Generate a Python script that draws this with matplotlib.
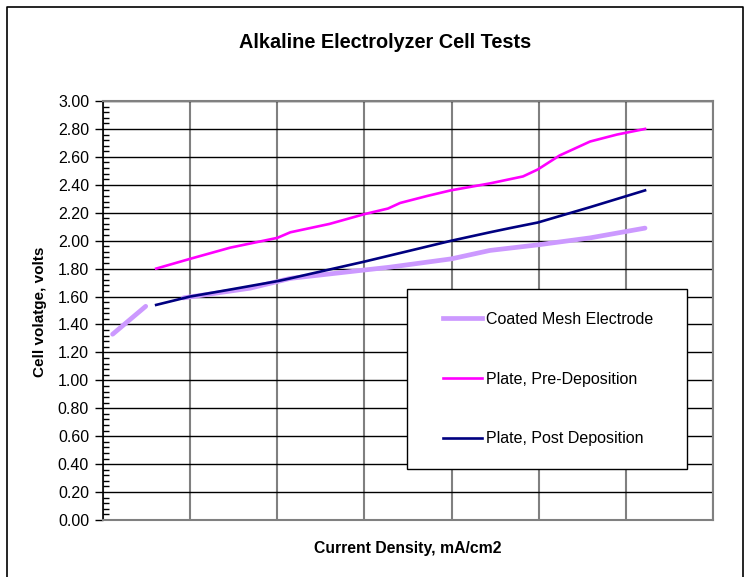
import numpy as np
import matplotlib
matplotlib.use("Agg")
import matplotlib.pyplot as plt
from matplotlib.ticker import MultipleLocator, NullFormatter
from matplotlib.lines import Line2D
from matplotlib.patches import Rectangle

plt.rcParams['font.family'] = ['Liberation Sans', 'DejaVu Sans']

# current density (axis 0..700), cell voltage in volts
mesh_x = [11, 49, 60, 92, 169, 215, 300, 329, 400, 444, 499, 559, 622]
mesh_v = [1.33, 1.53, np.nan, 1.59, 1.66, 1.73, 1.79, 1.81, 1.87, 1.93, 1.97, 2.02, 2.09]

pre_x = [61, 100, 146, 200, 215, 260, 300, 327, 341, 372, 399, 444, 482, 499, 524, 559, 590, 622]
pre_v = [1.80, 1.87, 1.95, 2.02, 2.06, 2.12, 2.19, 2.23, 2.27, 2.32, 2.36, 2.41, 2.46, 2.51, 2.61, 2.71, 2.76, 2.80]

post_x = [61, 100, 146, 200, 215, 300, 400, 444, 467, 499, 559, 622]
post_v = [1.54, 1.60, 1.65, 1.71, 1.73, 1.85, 2.00, 2.06, 2.09, 2.13, 2.24, 2.36]

labels = ["Coated Mesh Electrode", "Plate, Pre-Deposition", "Plate, Post Deposition"]
colors = ["#CC99FF", "#FF00FF", "#000080"]
widths = [3.4, 1.9, 1.9]

fig = plt.figure(figsize=(7.5, 5.77), dpi=100)
W, H = 750, 577
ax = fig.add_axes([103 / W, 1 - 520 / H, 610 / W, 419 / H])

ax.plot(mesh_x, mesh_v, color=colors[0], lw=widths[0], solid_capstyle='round')
ax.plot(pre_x, pre_v, color=colors[1], lw=widths[1])
ax.plot(post_x, post_v, color=colors[2], lw=widths[2])

ax.set_xlim(0, 700)
ax.set_ylim(0, 3.0)
ax.yaxis.set_major_locator(MultipleLocator(0.2))
ax.yaxis.set_minor_locator(MultipleLocator(0.04))
ax.yaxis.set_major_formatter(plt.FuncFormatter(lambda v, p: "%.2f" % v))
ax.xaxis.set_major_locator(MultipleLocator(100))
ax.xaxis.set_major_formatter(NullFormatter())
ax.tick_params(axis='x', length=0)
ax.tick_params(axis='y', which='major', direction='out', length=6, width=1, labelsize=11.5, pad=4)
ax.tick_params(axis='y', which='minor', direction='in', length=4, width=1)

ax.grid(axis='y', color='black', lw=1)
ax.grid(axis='x', color='#808080', lw=1.5)
ax.set_axisbelow(True)
for s in ['top', 'right', 'bottom']:
    ax.spines[s].set_color('#808080')
    ax.spines[s].set_linewidth(1.5)
ax.spines['left'].set_color('black')
ax.spines['left'].set_linewidth(1.2)

fig.text(385 / W, 1 - 42 / H, "Alkaline Electrolyzer Cell Tests", ha='center', va='center',
         fontsize=14.3, fontweight='bold')
fig.text(408 / W, 1 - 549 / H, "Current Density, mA/cm2", ha='center', va='center',
         fontsize=11.3, fontweight='bold')
fig.text(40 / W, 1 - 312 / H, "Cell volatge, volts", ha='center', va='center',
         fontsize=11, fontweight='bold', rotation=90)

# legend box drawn by hand so its size matches
box = Rectangle((407 / W, 1 - 469 / H), 280 / W, 180 / H, transform=fig.transFigure,
                facecolor='white', edgecolor='black', lw=1, zorder=5)
fig.add_artist(box)
handles = [Line2D([], [], color=c, lw=w) for c, w in zip(colors, widths)]
leg = fig.legend(handles, labels, loc='upper left', bbox_to_anchor=(443 / W, 1 - 312 / H),
                 fontsize=11.5, frameon=False, borderpad=0, labelspacing=2.8,
                 handlelength=2.45, handletextpad=0.25, borderaxespad=0)
leg.set_zorder(6)

# outer chart border
fig.add_artist(Line2D([7 / W, 7 / W, 743 / W, 743 / W], [0, 1 - 7 / H, 1 - 7 / H, 0],
                      color='black', lw=1.2, transform=fig.transFigure))

fig.savefig("out.png", dpi=100)
